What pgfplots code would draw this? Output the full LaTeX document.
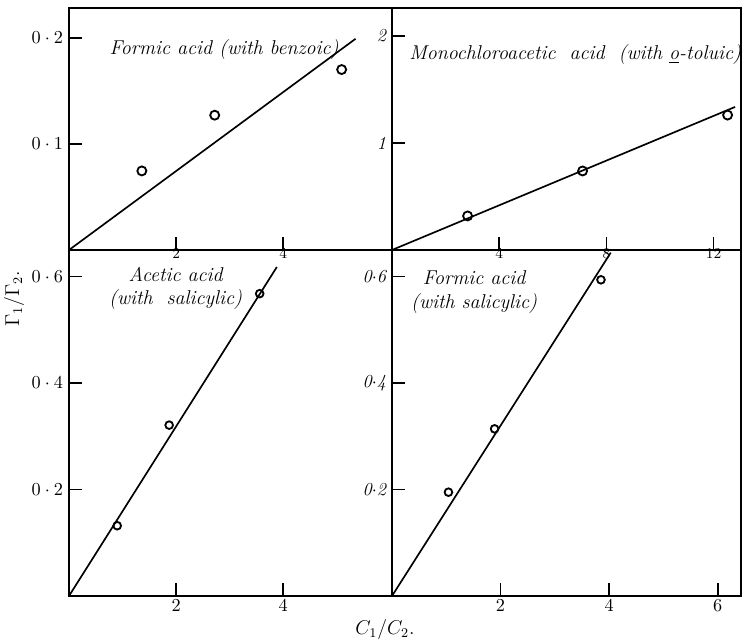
\documentclass[border=0pt]{standalone}
\usepackage{pgfplots}
\pgfplotsset{compat=1.18}
\tikzset{
  hand/.style={font=\fontsize{12}{14}\selectfont\itshape},
  fitline/.style={black, line width=1pt},
  obs/.style={black, mark=o, mark size=2.5pt, mark options={line width=1.1pt}},
}
\pgfplotsset{
  panel/.style={
    scale only axis, anchor=south west,
    axis line style={line width=1.3pt},
    tick pos=left, tick align=inside,
    major tick length=7.8pt,
    every tick/.style={line width=1pt, black},
    xmin=0, ymin=0, clip=false,
    tick label style={font=\fontsize{11}{13}\selectfont},
    xticklabel style={yshift=1.5pt},
  },
  upper/.style={xticklabel style={yshift=3pt, font=\small\itshape}},
}
\begin{document}
\begin{tikzpicture}[x=1pt,y=1pt]
\path[use as bounding box] (0,0) rectangle (445.2,385.2);
% Formic acid with benzoic acid
\begin{axis}[panel, upper, at={(41.4pt,235.2pt)}, width=193.8pt, height=145.2pt,
  xmax=6.03, ymax=0.228,
  xtick={2,4},
  ytick={0.1,0.2}, yticklabels={$0\cdot1$,$0\cdot2$}]
  \addplot[fitline, no marks] coordinates {(0,0) (5.35,0.199)};
  \addplot[obs, only marks, mark size=2.7pt] coordinates {(1.36,0.0745) (2.72,0.127) (5.09,0.170)};
  \node[hand] at (rel axis cs:0.48,0.83) {Formic acid (with benzoic)};
\end{axis}
% Monochloroacetic acid with o-toluic acid
\begin{axis}[panel, upper, at={(235.2pt,235.2pt)}, width=209.4pt, height=145.2pt,
  xmax=13.02, ymax=2.26,
  xtick={4,8,12},
  ytick={1,2}, yticklabels={\itshape 1,\itshape 2}]
  \addplot[fitline, no marks] coordinates {(0,0) (12.8,1.336)};
  \addplot[obs, only marks, mark size=2.7pt] coordinates {(2.82,0.318) (7.11,0.738) (12.52,1.26)};
  \node[hand] at (rel axis cs:0.525,0.806) {Monochloroacetic\ \ acid\ \ (with \underline{o}-toluic)};
\end{axis}
% Acetic acid with salicylic acid
\begin{axis}[panel, at={(41.4pt,27.6pt)}, width=193.8pt, height=207.6pt,
  xmax=6.03, ymax=0.65,
  xtick={2,4},
  ytick={0.2,0.4,0.6}, yticklabels={$0\cdot2$,$0\cdot4$,$0\cdot6$}]
  \addplot[fitline, no marks] coordinates {(0,0) (3.88,0.618)};
  \addplot[obs, only marks, mark size=2.3pt] coordinates {(0.90,0.132) (1.87,0.321) (3.56,0.568)};
  \node[hand, align=center] at (rel axis cs:0.33,0.89) {Acetic acid\\(with\ \ salicylic)};
\end{axis}
% Formic acid with salicylic acid
\begin{axis}[panel, at={(235.2pt,27.6pt)}, width=209.4pt, height=207.6pt,
  xmax=6.43, ymax=0.65,
  xtick={2,4,6},
  ytick={0.2,0.4,0.6},
  yticklabels={\itshape 0$\cdot$2,\itshape 0$\cdot$4,\itshape 0$\cdot$6}]
  \addplot[fitline, no marks] coordinates {(0,0) (4.03,0.645)};
  \addplot[obs, only marks, mark size=2.3pt] coordinates {(1.04,0.195) (1.89,0.314) (3.85,0.594)};
  \node[hand, align=center] at (rel axis cs:0.235,0.878) {Formic acid\\(with salicylic)};
\end{axis}
% shared axis titles
\node[rotate=90, font=\large] at (8.4,205.8) {$\Gamma_1/\Gamma_2.$};
\node[font=\large] at (231,7.2) {$C_1/C_2.$};
\end{tikzpicture}
\end{document}
